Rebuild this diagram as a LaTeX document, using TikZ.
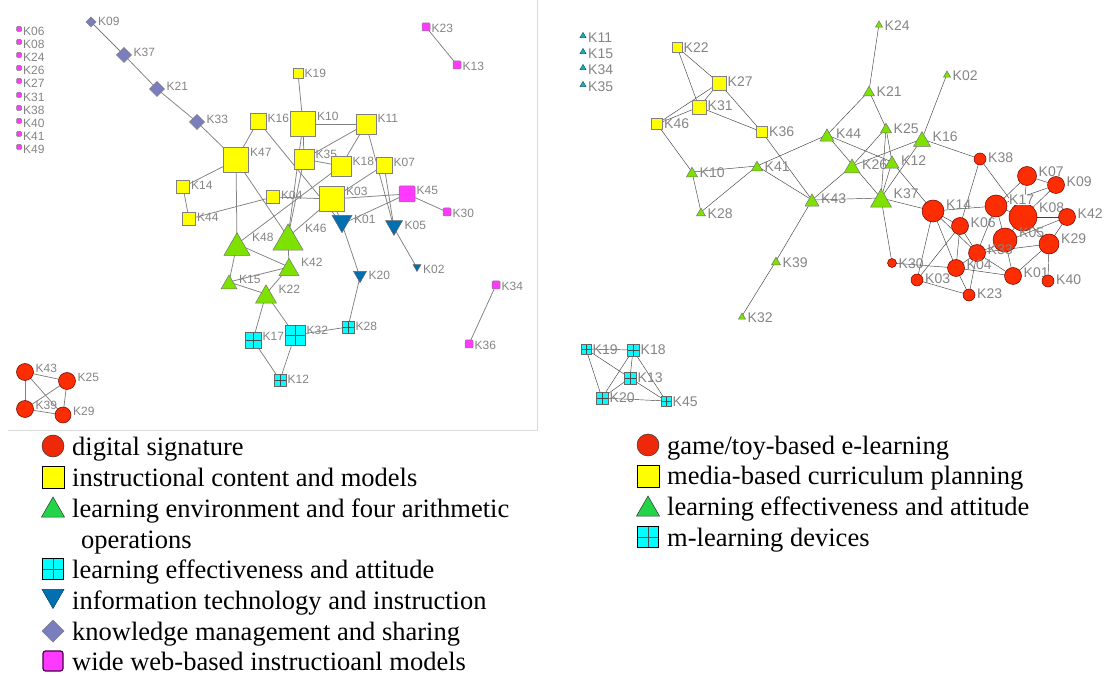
\documentclass[tikz,border=0pt]{standalone}
\usepackage{fontspec}
\setmainfont{Liberation Serif}
\newfontfamily\netfont{Liberation Sans}
\usetikzlibrary{positioning, backgrounds}
\definecolor{NetRed}{RGB}{252,45,0}
\definecolor{NetYellow}{RGB}{255,255,0}
\definecolor{NetGreen}{RGB}{125,226,0}
\definecolor{NetCyan}{RGB}{0,255,255}
\definecolor{NetBlue}{RGB}{0,112,176}
\definecolor{NetSlate}{RGB}{122,126,190}
\definecolor{NetPink}{RGB}{255,58,255}
\definecolor{NetTeal}{RGB}{30,170,190}
\definecolor{KeyGreen}{RGB}{36,212,72}
\definecolor{KeyRed}{RGB}{240,40,10}
\definecolor{LabGray}{RGB}{132,132,132}
\newcommand\leftlab{\netfont\fontsize{12}{13}\selectfont}
\newcommand\rightlab{\netfont\fontsize{14}{15}\selectfont}
\newcommand\keyfont{\fontsize{26.5}{30}\selectfont}

\tikzset{
  glyphfill/.store in=\glyphfill, glyphline/.store in=\glyphline,
  gbox/.style={rectangle, inner sep=0pt, outer sep=0pt},
  sq/.style={gbox, draw=black!50, fill=NetYellow, line width=0.5pt, minimum size=#1pt},
  mg/.style={gbox, draw=black!50, fill=NetPink, line width=0.5pt, rounded corners=1pt, minimum size=#1pt},
  mgrid/.style={gbox, draw=black!60, fill=NetCyan, line width=0.5pt, minimum size=#1pt,
    path picture={\draw[black!70, line width=0.5pt]
      (path picture bounding box.north) -- (path picture bounding box.south)
      (path picture bounding box.west) -- (path picture bounding box.east);}},
  circ/.style={gbox, glyphfill=NetRed, glyphline=red!45!black, minimum size=#1pt+1pt,
    path picture={\draw[draw=\glyphline, fill=\glyphfill, line width=0.5pt]
      (path picture bounding box.center) circle[radius=#1*0.5pt];}},
  tri/.style={gbox, glyphfill=NetGreen, glyphline=black!55,
    minimum width=#1pt+1pt, minimum height=0.87*#1pt+1pt,
    path picture={\draw[draw=\glyphline, fill=\glyphfill, line width=0.5pt]
      ([xshift=0.5pt,yshift=0.5pt]path picture bounding box.south west)
      -- ([xshift=-0.5pt,yshift=0.5pt]path picture bounding box.south east)
      -- ([yshift=-0.5pt]path picture bounding box.north) -- cycle;}},
  dn/.style={gbox, glyphfill=NetBlue, glyphline=black!60,
    minimum width=#1pt+1pt, minimum height=0.87*#1pt+1pt,
    path picture={\draw[draw=\glyphline, fill=\glyphfill, line width=0.5pt]
      ([xshift=0.5pt,yshift=-0.5pt]path picture bounding box.north west)
      -- ([xshift=-0.5pt,yshift=-0.5pt]path picture bounding box.north east)
      -- ([yshift=0.5pt]path picture bounding box.south) -- cycle;}},
  dia/.style={gbox, glyphfill=NetSlate, glyphline=black!50, minimum size=#1pt+1pt,
    path picture={\draw[draw=\glyphline, fill=\glyphfill, line width=0.5pt]
      ([yshift=-0.5pt]path picture bounding box.north)
      -- ([xshift=-0.5pt]path picture bounding box.east)
      -- ([yshift=0.5pt]path picture bounding box.south)
      -- ([xshift=0.5pt]path picture bounding box.west) -- cycle;}},
  klab/.style={anchor=north west, inner sep=0.5pt, xshift=1pt, text=LabGray},
  kl/.style={label={[klab, font=\leftlab]north east:#1}},
  kr/.style={label={[klab, font=\rightlab]north east:#1}},
  ledge/.style={draw=black!50, line width=0.75pt},
  redge/.style={draw=black!75, line width=0.45pt},
  keytxt/.style={anchor=base west, inner sep=0pt, font=\keyfont}
}

\begin{document}
\begin{tikzpicture}[x=1pt, y=-1pt]
\useasboundingbox (0,0) rectangle (1104,676);
\draw[black!15, line width=0.8pt] (8,430) -- (537,430) -- (537,0);

% left network: isolated keywords
\node[mg=5, kl=K06] (l06) at (19,29) {};
\node[mg=5, kl=K08] (l08) at (19,42) {};
\node[mg=5, kl=K24] (l24) at (19,55) {};
\node[mg=5, kl=K26] (l26) at (19,68) {};
\node[mg=5, kl=K27] (l27) at (19,81) {};
\node[mg=5, kl=K31] (l31) at (19,95) {};
\node[mg=5, kl=K38] (l38) at (19,108) {};
\node[mg=5, kl=K40] (l40) at (19,121) {};
\node[mg=5, kl=K41] (l41) at (19,134) {};
\node[mg=5, kl=K49] (l49) at (19,147) {};

% left network: knowledge management chain
\node[dia=10, kl=K09] (l09) at (91,22) {};
\node[dia=15, kl=K37] (l37) at (124,55) {};
\node[dia=15, kl=K21] (l21) at (157,89) {};
\node[dia=15, kl=K33] (l33) at (197,122) {};

% instructional content
\node[sq=25, kl=K47] (l47) at (236,160) {};
\node[sq=16, kl=K16] (l16) at (258,121) {};
\node[sq=25, kl=K10] (l10) at (303,124) {};
\node[sq=20, kl=K11] (l11) at (366,124) {};
\node[sq=10, kl=K19] (l19) at (298,73) {};
\node[sq=20, kl=K35] (l35) at (304,159) {};
\node[sq=20, kl=K18] (l18) at (341,166) {};
\node[sq=16, kl=K07] (l07) at (384,165) {};
\node[sq=13, kl=K14] (l14) at (183,187) {};
\node[sq=13, kl=K44] (l44) at (189,219) {};
\node[sq=13, kl=K04] (l04) at (273,197) {};
\node[sq=25, kl=K03] (l03) at (332,199) {};

% web-based models
\node[mg=16, kl=K45] (l45) at (407,194) {};
\node[mg=8, kl=K30] (l30) at (447,212) {};
\node[mg=8, kl=K23] (l23) at (426,27) {};
\node[mg=8, kl=K13] (l13) at (457,65) {};
\node[mg=8, kl=K34] (l34) at (496,285) {};
\node[mg=8, kl=K36] (l36) at (469,344) {};

% information technology
\node[dn=20, kl=K01] (l01) at (342,224) {};
\node[dn=17, kl=K05] (l05) at (394,228) {};
\node[dn=13, kl=K20] (l20) at (360,277) {};
\node[dn=8, kl=K02] (l02) at (417,268) {};

% learning environment
\node[tri=26, kl=K48] (l48) at (237,244) {};
\node[tri=30, kl=K46] (l46) at (288,237) {};
\node[tri=20, kl=K42] (l42) at (289,267) {};
\node[tri=16, kl=K15] (l15) at (229,282) {};
\node[tri=21, kl=K22] (l22) at (266,294) {};

% learning effectiveness
\node[mgrid=16, kl=K17] (l17) at (253,340) {};
\node[mgrid=20, kl=K32] (l32) at (295,335) {};
\node[mgrid=12, kl=K12] (l12) at (280,380) {};
\node[mgrid=12, kl=K28] (l28) at (348,327) {};

% digital signature
\node[circ=17, kl=K43] (l43) at (25,372) {};
\node[circ=17, kl=K25] (l25) at (67,381) {};
\node[circ=17, kl=K39] (l39) at (25,409) {};
\node[circ=16, kl=K29] (l29) at (63,415) {};

% right network: isolated keywords
\node[tri=6, glyphfill=NetTeal, glyphline=NetTeal!60!black, kr=K11] (r11) at (583,35) {};
\node[tri=6, glyphfill=NetTeal, glyphline=NetTeal!60!black, kr=K15] (r15) at (583,51) {};
\node[tri=6, glyphfill=NetTeal, glyphline=NetTeal!60!black, kr=K34] (r34) at (583,67) {};
\node[tri=6, glyphfill=NetTeal, glyphline=NetTeal!60!black, kr=K35] (r35) at (583,84) {};

% curriculum planning
\node[sq=10, kr=K22] (r22) at (677,47) {};
\node[sq=14, kr=K27] (r27) at (719,83) {};
\node[sq=14, kr=K31] (r31) at (699,107) {};
\node[sq=11, kr=K46] (r46) at (657,124) {};
\node[sq=11, kr=K36] (r36) at (762,132) {};

% effectiveness and attitude
\node[tri=11, kr=K10] (r10) at (692,172) {};
\node[tri=11, kr=K41] (r41) at (757,166) {};
\node[tri=9, kr=K28] (r28) at (701,212) {};
\node[tri=14, kr=K44] (r44) at (827,135) {};
\node[tri=14, kr=K43] (r43) at (812,200) {};
\node[tri=7, kr=K24] (r24) at (879,24) {};
\node[tri=11, kr=K21] (r21) at (869,91) {};
\node[tri=7, kr=K02] (r02) at (947,74) {};
\node[tri=11, kr=K25] (r25) at (886,128) {};
\node[tri=17, kr=K16] (r16) at (922,139) {};
\node[tri=16, kr=K26] (r26) at (852,166) {};
\node[tri=14, kr=K12] (r12) at (892,162) {};
\node[tri=21, kr=K37] (r37) at (881,198) {};
\node[tri=9, kr=K39] (r39) at (776,261) {};
\node[tri=7, kr=K32] (r32) at (742,316) {};

% game/toy-based e-learning
\node[circ=22, kr=K14] (r14) at (933,211) {};
\node[circ=12, kr=K38] (r38) at (980,159) {};
\node[circ=19, kr=K07] (r07) at (1027,176) {};
\node[circ=17, kr=K09] (r09) at (1056,185) {};
\node[circ=28, kr=K08] (r08) at (1023,217) {};
\node[circ=22, label={[klab, font=\rightlab, fill=white]north east:K17}] (r17) at (996,206) {};
\node[circ=17, kr=K42] (r42) at (1067,217) {};
\node[circ=17, kr=K06] (r06) at (960,226) {};
\node[circ=24, kr=K05] (r05) at (1005,240) {};
\node[circ=20, kr=K29] (r29) at (1049,244) {};
\node[circ=17, kr=K33] (r33) at (977,253) {};
\node[circ=9, kr=K30] (r30) at (892,263) {};
\node[circ=17, kr=K04] (r04) at (956,268) {};
\node[circ=17, kr=K01] (r01) at (1013,276) {};
\node[circ=12, kr=K40] (r40) at (1048,281) {};
\node[circ=12, kr=K03] (r03) at (917,280) {};
\node[circ=12, kr=K23] (r23) at (969,295) {};

% m-learning devices
\node[mgrid=10, kr=K19] (r19) at (586,349) {};
\node[mgrid=12, kr=K18] (r18) at (633,350) {};
\node[mgrid=12, kr=K13] (r13) at (630,378) {};
\node[mgrid=12, kr=K20] (r20) at (602,398) {};
\node[mgrid=10, kr=K45] (r45) at (666,401) {};

% co-word links
\begin{scope}[on background layer]
  \foreach \a/\b in {l09/l37, l37/l21, l21/l33, l33/l47, l47/l16, l47/l14,
      l47/l48, l47/l46, l14/l44, l44/l04, l16/l01, l19/l10, l10/l11, l10/l35,
      l10/l46, l35/l46, l11/l35, l11/l18, l11/l05, l07/l05, l35/l18, l18/l48,
      l04/l03, l03/l45, l03/l01, l07/l03, l45/l01, l45/l30, l46/l03, l46/l42,
      l48/l42, l48/l15, l15/l42, l15/l22, l42/l22, l22/l17, l22/l32, l17/l12,
      l32/l12, l32/l28, l28/l20, l01/l20, l05/l02, l23/l13, l34/l36,
      l43/l25, l43/l39, l43/l29, l25/l39, l25/l29, l39/l29}
    \draw[ledge] (\a.center) -- (\b.center);
  \foreach \a/\b in {r22/r31, r22/r27, r27/r31, r27/r46, r31/r46, r27/r36,
      r31/r36, r46/r10, r36/r43, r10/r41, r10/r28, r28/r41, r41/r44, r41/r43,
      r24/r21, r21/r44, r21/r25, r02/r16, r44/r37, r44/r12, r25/r26, r25/r12,
      r25/r37, r16/r26, r16/r37, r16/r38, r12/r37, r12/r14, r26/r43, r43/r37,
      r37/r14, r37/r30, r39/r43, r39/r32,
      r38/r06, r38/r08, r07/r17, r07/r09, r07/r08, r09/r08, r09/r17, r14/r17,
      r17/r08, r17/r33, r17/r05, r08/r42, r08/r29, r08/r05, r42/r29, r42/r33,
      r33/r29, r29/r40, r29/r01, r05/r01, r33/r01, r14/r06, r14/r04, r14/r33,
      r14/r03, r06/r04, r06/r03, r06/r33, r04/r23, r04/r33, r04/r30, r23/r03,
      r23/r33, r01/r04,
      r19/r18, r19/r20, r19/r13, r18/r13, r18/r20, r18/r45, r13/r20, r13/r45,
      r20/r45}
    \draw[redge] (\a.center) -- (\b.center);
\end{scope}

% keys
\node[circ=22, glyphfill=KeyRed, glyphline=black!80] (keyA) at (53,446) {};
\node[keytxt] (keyAtxt) at (72,455) {digital signature};
\node[sq=22, draw=black] (keyB) at (53,477) {};
\node[keytxt] (keyBtxt) at (72,486) {instructional content and models};
\node[tri=23, glyphfill=KeyGreen, glyphline=black!80] (keyC) at (53,507) {};
\node[keytxt] (keyCtxt) at (72,517) {learning environment and four arithmetic};
\node[keytxt] (keyCtxt2) at (81,548) {operations};
\node[mgrid=21, draw=black] (keyD) at (53,569) {};
\node[keytxt] (keyDtxt) at (72,578) {learning effectiveness and attitude};
\node[dn=22, glyphline=NetBlue!60!black] (keyE) at (53,599) {};
\node[keytxt] (keyEtxt) at (72,609) {information technology and instruction};
\node[dia=22] (keyF) at (53,631) {};
\node[keytxt] (keyFtxt) at (72,640) {knowledge management and sharing};
\node[mg=20, draw=violet!55!black, line width=1.2pt, rounded corners=2.5pt] (keyG) at (53,661) {};
\node[keytxt] (keyGtxt) at (72,670) {wide web-based instructioanl models};

\node[circ=22, glyphfill=KeyRed, glyphline=black!80] (keyH) at (648,445) {};
\node[keytxt] (keyHtxt) at (667,454) {game/toy-based e-learning};
\node[sq=22, draw=black] (keyI) at (648,476) {};
\node[keytxt] (keyItxt) at (667,485) {media-based curriculum planning};
\node[tri=23, glyphfill=KeyGreen, glyphline=black!80] (keyJ) at (648,506) {};
\node[keytxt] (keyJtxt) at (667,515) {learning effectiveness and attitude};
\node[mgrid=21, draw=black] (keyK) at (648,537) {};
\node[keytxt] (keyKtxt) at (667,546) {m-learning devices};
\end{tikzpicture}
\end{document}
